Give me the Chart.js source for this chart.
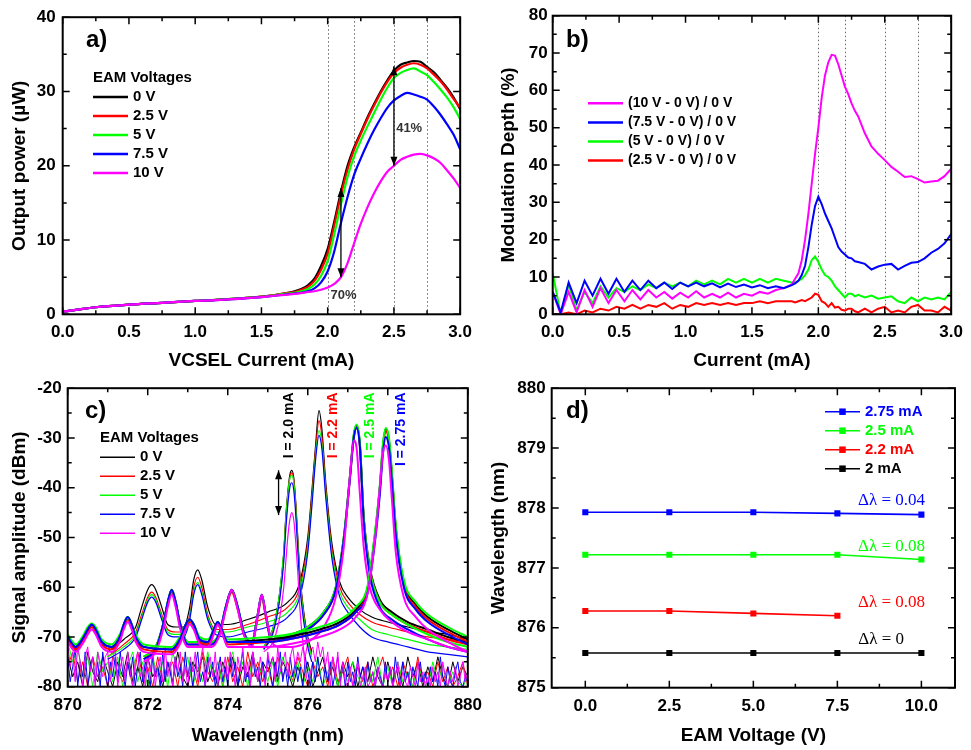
<!DOCTYPE html>
<html>
<head>
<meta charset="utf-8">
<script src="https://cdn.jsdelivr.net/npm/chart.js@4.4.0/dist/chart.umd.min.js"></script>
<style>
  body { margin: 0; background: #fff; width: 971px; height: 750px; position: relative; overflow: hidden; }
  canvas { position: absolute; }
</style>
</head>
<body>
<canvas id="chart-a" width="480" height="372" style="left:0;top:0"></canvas>
<canvas id="chart-b" width="491" height="372" style="left:480px;top:0"></canvas>
<canvas id="chart-c" width="490" height="378" style="left:0;top:372px"></canvas>
<canvas id="chart-d" width="491" height="378" style="left:480px;top:372px"></canvas>
<script>
// ---- a) output power vs VCSEL current ----
const currentA = [0, 0.1, 0.25, 0.5, 0.75, 1.0, 1.25, 1.5, 1.6, 1.7, 1.75, 1.8, 1.85, 1.9, 1.95, 2.0, 2.05, 2.1, 2.15, 2.2,
    2.25, 2.3, 2.35, 2.4, 2.45, 2.5, 2.55, 2.6, 2.65, 2.7, 2.75, 2.8, 2.85, 2.9, 2.95, 3.0];
const power0V = [0.35, 0.6, 0.95, 1.3, 1.55, 1.8, 2.05, 2.4, 2.6, 2.9, 3.1, 3.4, 3.9, 4.8, 6.5, 8.8, 12.5, 16.5, 20, 22.5,
    24.5, 26.5, 28.3, 30, 31.5, 32.8, 33.6, 33.9, 34.1, 34.0, 33.3, 32.6, 31.6, 30.5, 29.2, 27.6];
const power2_5V = [0.35, 0.6, 0.95, 1.3, 1.55, 1.8, 2.05, 2.4, 2.6, 2.9, 3.0, 3.3, 3.7, 4.5, 6.0, 8.2, 12, 16, 19.5, 22.2,
    24.3, 26.3, 28.1, 29.8, 31.3, 32.5, 33.2, 33.6, 33.8, 33.6, 33.1, 32.3, 31.4, 30.3, 29.0, 27.8];
const power5V = [0.35, 0.6, 0.95, 1.3, 1.55, 1.8, 2.05, 2.35, 2.55, 2.8, 2.9, 3.1, 3.4, 4.0, 5.2, 7.2, 10.8, 14.8, 18.5, 21.3,
    23.4, 25.3, 27.1, 28.9, 30.5, 31.8, 32.5, 32.9, 33.1, 32.7, 32.2, 31.3, 30.3, 29.2, 27.9, 26.3];
const power7_5V = [0.35, 0.6, 0.95, 1.3, 1.55, 1.8, 2.0, 2.3, 2.5, 2.7, 2.8, 2.9, 3.1, 3.5, 4.3, 5.8, 8.5, 12.3, 15.8, 18.8,
    21.0, 23.0, 24.8, 26.4, 27.8, 28.8, 29.4, 29.8, 29.6, 29.3, 28.9, 28.0, 26.9, 25.6, 24.2, 22.2];
const power10V = [0.35, 0.6, 0.95, 1.3, 1.55, 1.8, 2.0, 2.3, 2.5, 2.65, 2.75, 2.85, 3.0, 3.1, 3.3, 3.6, 4.1, 5.0, 6.9, 9.6,
    12.2, 14.4, 16.3, 17.9, 19.2, 20.0, 20.8, 21.2, 21.5, 21.6, 21.4, 21.0, 20.4, 19.4, 18.3, 17.0];
const voltLabels = ['0 V', '2.5 V', '5 V', '7.5 V', '10 V'];
const markCurrents = [2.0, 2.2, 2.5, 2.75];

// ---- b) modulation depth ----
const currentB = [0, 0.06, 0.12, 0.18, 0.24, 0.3, 0.36, 0.42, 0.48, 0.54, 0.6, 0.66, 0.72, 0.78, 0.84, 0.9, 0.96, 1.02,
    1.08, 1.14, 1.2, 1.26, 1.32, 1.38, 1.44, 1.5, 1.56, 1.62, 1.68, 1.74,
    1.8, 1.825, 1.85, 1.875, 1.9, 1.925, 1.95, 1.975, 2.0, 2.025, 2.05, 2.075, 2.1, 2.125, 2.15, 2.175, 2.2, 2.225,
    2.25, 2.275, 2.3, 2.35, 2.4, 2.45, 2.5, 2.55, 2.6, 2.65, 2.7, 2.75, 2.8, 2.85, 2.9, 2.95, 3.0];
const depth10 = [6, 0, 6, 0.5, 6.5, 2, 7, 3, 6.5, 3.5, 6.5, 4, 6.5, 4.5, 6, 4.2, 5.8, 4.5, 6.2, 4.5, 5.5, 4.5, 5.8, 4.5,
    5.5, 5, 6, 5.5, 6.5, 7,
    8, 9.5, 11, 14.5, 20, 27, 35, 43, 50, 58, 64, 67.5, 69.5, 69.3, 67, 64, 61, 59, 56.5, 54.5, 53,
    48.5, 45, 43, 41.3, 39.5, 38.2, 36.8, 37, 36.2, 35.3, 35.6, 35.8, 37, 39];
const depth7_5 = [6, 0.5, 8.5, 3, 9, 5, 9.5, 5.5, 9.5, 6, 9, 6.5, 9, 7, 8.5, 6.8, 8.5, 7.5, 8.5, 7.5, 8.3, 7.2, 8.2, 7.3,
    8, 7.2, 7.8, 7, 7.5, 7,
    7.8, 8.3, 9, 10.5, 13, 18, 24, 29, 31.5, 29.5, 27, 25, 23, 20.5, 18, 16.8, 16, 15.2, 15, 14.2, 14,
    13.5, 12, 12.8, 13.3, 13.5, 12, 13, 13.8, 14, 15, 16.5, 17.5, 19, 21.5];
const depth5 = [11, 0, 8, 1, 6, 3, 7.5, 4.5, 7, 6, 7.5, 6.5, 8, 7, 8.5, 7.5, 8.5, 7.5, 9, 8, 9, 8, 9.5, 8.5,
    9.5, 8.5, 9.5, 8.5, 9.5, 9,
    8.5, 8.5, 9, 9.5, 10.5, 12, 14.5, 15.5, 14, 12, 10.5, 10, 9, 7.5, 6.5, 5.5, 4.5, 5.5, 5.5, 4.8, 5.2,
    4.5, 5, 4.2, 4.5, 4.8, 3.5, 3, 4.5, 3.5, 4.5, 4, 4.5, 4, 6];
const depth2_5 = [0, 0, 0.5, 0, 1, 0.5, 1.5, 1, 2, 1.5, 2.5, 1.5, 2.5, 2, 3, 1.5, 2.5, 2, 3, 2.5, 3, 2.5, 3, 2.5,
    3, 3, 3.5, 3, 3.5, 3.5,
    3.5, 3.2, 3.5, 3.8, 3.5, 4, 4.5, 5.5, 5.2, 3.5, 3, 2, 3, 1.8, 2, 1.2, 1, 1.5, 1.5, 0.8, 0.5,
    1.5, 0.5, 1.5, 2, 0.5, 1, 0.5, 2, 2.5, 1, 1, 0.5, 2, 1];
const depthLabels = ['(10 V - 0 V) / 0 V', '(7.5 V - 0 V) / 0 V', '(5 V - 0 V) / 0 V', '(2.5 V - 0 V) / 0 V'];

// ---- c) spectra ----
// coarse noise floor (0, 2.5, 5 V)
const wlNoise = [870, 870.125, 870.25, 870.375, 870.5, 870.625, 870.75, 870.875,
    871, 871.125, 871.25, 871.375, 871.5, 871.625, 871.75, 871.875,
    872, 872.125, 872.25, 872.375, 872.5, 872.625, 872.75, 872.875,
    873, 873.125, 873.25, 873.375, 873.5, 873.625, 873.75, 873.875,
    874, 874.125, 874.25, 874.375, 874.5, 874.625, 874.75, 874.875,
    875, 875.125, 875.25, 875.375, 875.5, 875.625, 875.75, 875.875,
    876, 876.125, 876.25, 876.375, 876.5, 876.625, 876.75, 876.875,
    877, 877.125, 877.25, 877.375, 877.5, 877.625, 877.75, 877.875,
    878, 878.125, 878.25, 878.375, 878.5, 878.625, 878.75, 878.875,
    879, 879.125, 879.25, 879.375, 879.5, 879.625, 879.75, 879.875, 880];
const noise0V = [-74, -78, -75, -80, -73, -77, -79, -74, -77, -80, -75, -78, -73, -79, -76, -80,
    -74, -78, -76, -80, -75, -79, -73, -78, -80, -75, -77, -74, -79, -76, -80, -75,
    -78, -74, -80, -76, -78, -73, -79, -75, -77, -74, -79, -75, -77, -80, -76, -79,
    -75, -80, -77, -74, -79, -76, -80, -75, -78, -75, -80, -76, -79, -74, -78, -80,
    -75, -79, -76, -80, -74, -78, -75, -80, -76, -79, -74, -78, -80, -75, -79, -76, -78];
const noise2_5V = [-76, -73, -79, -75, -80, -74, -78, -76, -80, -74, -77, -79, -75, -80, -73, -78,
    -76, -80, -74, -79, -77, -75, -80, -74, -78, -76, -80, -73, -77, -79, -75, -80,
    -74, -79, -76, -80, -73, -78, -75, -79, -76, -80, -74, -78, -75, -79, -74, -77,
    -80, -75, -78, -76, -80, -74, -79, -77, -74, -80, -76, -79, -75, -80, -77, -74,
    -79, -76, -80, -75, -78, -80, -74, -79, -77, -80, -75, -79, -76, -80, -78, -75, -80];
const noise5V = [-71, -75, -72, -78, -74, -80, -73, -77, -75, -79, -74, -80, -76, -73, -79, -75,
    -80, -74, -78, -75, -80, -73, -77, -79, -74, -80, -76, -79, -73, -78, -75, -80,
    -76, -73, -79, -75, -80, -74, -78, -76, -79, -75, -80, -74, -77, -79, -75, -80,
    -76, -79, -74, -80, -77, -75, -80, -76, -79, -75, -78, -80, -76, -79, -74, -80,
    -76, -80, -75, -79, -77, -80, -76, -78, -80, -75, -79, -76, -80, -77, -79, -80, -78];
// fine noise floor (7.5, 10 V)
const wlNoiseFine = [870, 870.0625, 870.125, 870.1875, 870.25, 870.3125, 870.375, 870.4375,
    870.5, 870.5625, 870.625, 870.6875, 870.75, 870.8125, 870.875, 870.9375,
    871, 871.0625, 871.125, 871.1875, 871.25, 871.3125, 871.375, 871.4375,
    871.5, 871.5625, 871.625, 871.6875, 871.75, 871.8125, 871.875, 871.9375,
    872, 872.0625, 872.125, 872.1875, 872.25, 872.3125, 872.375, 872.4375,
    872.5, 872.5625, 872.625, 872.6875, 872.75, 872.8125, 872.875, 872.9375,
    873, 873.0625, 873.125, 873.1875, 873.25, 873.3125, 873.375, 873.4375,
    873.5, 873.5625, 873.625, 873.6875, 873.75, 873.8125, 873.875, 873.9375,
    874, 874.0625, 874.125, 874.1875, 874.25, 874.3125, 874.375, 874.4375,
    874.5, 874.5625, 874.625, 874.6875, 874.75, 874.8125, 874.875, 874.9375,
    875, 875.0625, 875.125, 875.1875, 875.25, 875.3125, 875.375, 875.4375,
    875.5, 875.5625, 875.625, 875.6875, 875.75, 875.8125, 875.875, 875.9375,
    876, 876.0625, 876.125, 876.1875, 876.25, 876.3125, 876.375, 876.4375,
    876.5, 876.5625, 876.625, 876.6875, 876.75, 876.8125, 876.875, 876.9375,
    877, 877.0625, 877.125, 877.1875, 877.25, 877.3125, 877.375, 877.4375,
    877.5, 877.5625, 877.625, 877.6875, 877.75, 877.8125, 877.875, 877.9375,
    878, 878.0625, 878.125, 878.1875, 878.25, 878.3125, 878.375, 878.4375,
    878.5, 878.5625, 878.625, 878.6875, 878.75, 878.8125, 878.875, 878.9375,
    879, 879.0625, 879.125, 879.1875, 879.25, 879.3125, 879.375, 879.4375,
    879.5, 879.5625, 879.625, 879.6875, 879.75, 879.8125, 879.875, 879.9375, 880];
const noise7_5V = [-74, -79, -76, -72, -80, -75, -78, -73, -80, -76, -74, -79, -75, -80, -73, -77,
    -80, -75, -78, -74, -79, -73, -77, -80, -75, -78, -74, -80, -76, -73, -79, -75,
    -77, -80, -74, -78, -76, -80, -73, -79, -75, -77, -80, -74, -78, -76, -80, -73,
    -78, -75, -80, -76, -73, -79, -77, -80, -74, -78, -75, -80, -77, -74, -79, -76,
    -80, -74, -78, -75, -80, -76, -73, -79, -77, -80, -74, -78, -76, -80, -75, -79,
    -74, -77, -80, -75, -78, -73, -79, -76, -80, -74, -78, -75, -79, -76, -80, -74,
    -77, -80, -75, -79, -74, -78, -80, -76, -79, -75, -80, -77, -74, -79, -76, -80,
    -75, -79, -77, -80, -74, -78, -76, -80, -75, -79, -77, -80, -76, -78, -80, -75,
    -79, -76, -80, -74, -78, -80, -75, -79, -77, -80, -76, -78, -80, -75, -79, -77,
    -80, -76, -79, -77, -80, -74, -78, -80, -76, -79, -80, -77, -75, -79, -80, -78, -79];
const noise10V = [-71, -76, -73, -79, -72, -75, -80, -74, -72, -77, -74, -80, -73, -76, -78, -74,
    -73, -79, -75, -72, -80, -76, -74, -79, -73, -77, -80, -75, -73, -78, -76, -80,
    -74, -77, -73, -80, -76, -74, -79, -72, -78, -75, -80, -74, -77, -73, -79, -76,
    -80, -74, -77, -73, -79, -75, -72, -80, -76, -74, -78, -73, -80, -75, -77, -74,
    -79, -73, -76, -80, -74, -77, -72, -78, -75, -80, -73, -76, -79, -74, -77, -80,
    -73, -76, -74, -79, -72, -77, -75, -73, -78, -74, -72, -76, -73, -75, -72, -74,
    -71, -73, -72, -75, -71, -74, -72, -76, -73, -80, -74, -78, -73, -80, -75, -79,
    -80, -76, -80, -77, -75, -80, -78, -76, -80, -79, -77, -80, -76, -79, -80, -77,
    -79, -76, -80, -78, -75, -80, -77, -79, -80, -76, -78, -80, -75, -79, -77, -80,
    -78, -80, -76, -79, -77, -80, -75, -78, -80, -77, -79, -76, -80, -78, -75, -79, -77];

const wl20 = [874.9, 875.1, 875.2, 875.3, 875.4, 875.45, 875.5, 875.55, 875.6, 875.65, 875.7, 875.75, 875.8, 875.9, 876.0, 876.1];
const spec20 = {
    '0 V':   [-72, -69, -66, -61, -53, -46, -41, -37.5, -36.5, -38, -43, -50, -57, -65, -70, -73],
    '2.5 V': [-72.5, -69.5, -66.5, -61.5, -53.5, -46.5, -41.5, -38, -37, -38.5, -43.5, -50.5, -57.5, -65.5, -70.5, -73.5],
    '5 V':   [-72, -69, -66, -61, -53, -46.5, -41.5, -38.3, -37.5, -39, -44, -51, -58, -66, -71, -74],
    '7.5 V': [-72.5, -70, -67, -62.5, -55, -48.5, -43.5, -40, -39, -40.5, -45.5, -52.5, -59.5, -67, -72, -75],
    '10 V':  [-73, -71.5, -69.5, -66, -60, -55, -50, -46.5, -45, -46.5, -51, -57, -64, -73, -79, -76]
};
const wl22 = [871.0, 871.4, 871.7, 871.85, 872.0, 872.1, 872.2, 872.35, 872.5, 872.7, 872.9, 873.05, 873.15, 873.25,
    873.35, 873.5, 873.7, 874.0, 874.5, 875.0, 875.5, 875.8, 876.0, 876.1, 876.2, 876.28, 876.35, 876.45, 876.6,
    876.8, 877.0, 877.3, 877.6, 878.0, 878.5, 879.0, 879.5, 880.0];
const spec22 = {
    '0 V':   [-73, -70.5, -68, -64, -60.5, -59.5, -60.5, -64, -67.5, -68, -68, -64, -58.5, -56.5, -58.5, -64, -67.5, -67.5,
              -66.5, -65, -63, -59, -50, -41, -31, -24.5, -28, -39, -51, -59, -62, -64.5, -66, -67, -68, -69, -69.5, -70.5],
    '2.5 V': [-74, -71.5, -69, -65.5, -62, -61, -62, -65.5, -68.5, -69, -69, -65.5, -60, -58, -60, -65.5, -68.5, -68.5,
              -67.5, -66, -64, -60, -51, -42, -32, -26.5, -29.5, -40, -52, -60, -63, -65.5, -67, -68, -69, -70, -70.5, -71],
    '5 V':   [-74, -72, -69.5, -66, -62.5, -61.5, -62.5, -66, -69, -69.5, -69.5, -66, -61, -59, -61, -66, -69, -69,
              -68, -67, -65, -61, -52, -43, -33, -28.5, -31, -41, -53, -61, -64, -66.5, -68.5, -69.5, -70.5, -71.5, -72, -72.5],
    '7.5 V': [-74.5, -72.5, -70, -66.5, -63, -62, -63, -66.5, -69.5, -70, -70, -66.5, -61.5, -59.5, -61.5, -66.5, -69.5, -70,
              -69, -68, -66, -62, -53, -44, -34, -29.5, -32, -42, -54, -62, -65, -68, -70, -71, -72, -73, -73.5, -74]
};
const wl25 = [871.9, 872.2, 872.4, 872.5, 872.6, 872.7, 872.8, 873.0, 873.6, 873.8, 873.95, 874.1, 874.25, 874.4, 874.6,
    874.75, 874.85, 874.95, 875.1, 875.3, 875.6, 876.0, 876.4, 876.7, 876.9, 877.05, 877.15, 877.22, 877.3, 877.4,
    877.55, 877.8, 878.1, 878.5, 879.0, 879.5, 880.0];
const spec25 = {
    '0 V':   [-74, -72, -67, -63, -60.5, -63, -67, -71, -71, -69, -64, -60.5, -64, -69, -71, -65.5, -61.5, -65.5, -70.5,
              -70, -69.5, -68, -65, -60, -50, -38, -29.5, -27.5, -31, -46, -56, -62.5, -65, -67, -68.5, -70, -71],
    '2.5 V': [-74.5, -72, -67.5, -63.5, -61, -63.5, -67.5, -71.5, -71.5, -69.5, -64.5, -61, -64.5, -69.5, -71.5, -66, -62, -66, -71,
              -70.5, -70, -68.5, -65.5, -60.5, -50.5, -38.5, -30, -28, -31.5, -46.5, -56.5, -63, -65.5, -67.5, -69, -70.5, -71.5],
    '5 V':   [-74, -72, -67, -63, -60.5, -63, -67, -71, -71, -69, -64, -60.5, -64, -69, -71, -65.5, -61.5, -65.5, -70.5,
              -70, -69.5, -68, -65, -60, -50, -38, -29.3, -27.3, -30.8, -46, -56.5, -63, -65.5, -67.5, -69.5, -71, -72],
    '7.5 V': [-74.5, -72.5, -67, -63, -60.5, -63, -67, -71.5, -71.5, -69, -64, -60.5, -64, -69, -71.5, -65.5, -61.5, -65.5, -71,
              -70.5, -70, -68.5, -65.5, -60.5, -50.5, -38.5, -30, -28, -31.5, -47, -57.5, -64, -66.5, -68.5, -70.5, -72, -73],
    '10 V':  [-75, -73, -68, -64, -61.5, -64, -68, -72, -72, -69.5, -64.5, -60.5, -64.5, -69.5, -72, -65.5, -61.5, -65.5, -71,
              -72, -72, -71, -68, -62, -52, -38, -30.5, -32, -41, -52, -60, -64.5, -67, -69, -70.5, -72, -73]
};
const wl275 = [870.0, 870.2, 870.4, 870.5, 870.6, 870.7, 870.85, 871.1, 871.3, 871.4, 871.5, 871.6, 871.7, 871.9, 872.6,
    872.8, 872.95, 873.05, 873.15, 873.3, 873.5, 873.65, 873.75, 873.85, 874.0, 875.0, 875.5, 876.3, 876.8, 877.2,
    877.5, 877.7, 877.8, 877.88, 877.95, 878.03, 878.1, 878.2, 878.4, 878.7, 879.0, 879.5, 880.0];
const spec275 = {
    '0 V':   [-70, -72, -70, -68.5, -67.5, -68.5, -71, -72, -70, -67.5, -66, -67.5, -70, -72, -72.5, -70.5, -67.5, -66.5,
              -67.5, -70.5, -71, -68.5, -67, -68.5, -71, -70.5, -70, -68.5, -67, -64.5, -60, -48, -40, -31.5, -28.2, -30.5,
              -37, -48, -59, -63.5, -66, -68.5, -70.5],
    '2.5 V': [-70.5, -72.5, -70.5, -69, -68, -69, -71.5, -72.5, -70.5, -68, -66.5, -68, -70.5, -72.5, -73, -71, -68, -67,
              -68, -71, -71.5, -69, -67.5, -69, -71.5, -71, -70.5, -69, -67.5, -65, -60.5, -48.5, -40.5, -32, -28.5, -31,
              -37.5, -48.5, -59.5, -64, -66.5, -69, -71],
    '5 V':   [-69.5, -71.5, -69.5, -68, -67.3, -68, -70.5, -71.5, -69.5, -67.5, -66, -67.5, -69.5, -71.5, -72, -70, -67.5, -66.5,
              -67.5, -70, -70.5, -68.5, -67, -68.5, -70.5, -70, -69.5, -68, -66.5, -64, -59.5, -47.5, -39.5, -31, -28, -30,
              -36.5, -47.5, -58.5, -63, -65.5, -68, -70],
    '7.5 V': [-70, -72, -70, -68.5, -67.5, -68.5, -71, -72, -70, -67.5, -66, -67.5, -70, -72, -72.5, -70.5, -67.5, -66.5,
              -67.5, -70.5, -71, -68.5, -67, -68.5, -71, -71, -70.5, -69, -67.5, -65, -61, -49.5, -41.5, -33, -29.8, -32,
              -38.5, -49.5, -60, -64.5, -67, -69.5, -71.5],
    '10 V':  [-71, -73, -71, -69.5, -68.5, -69.5, -72, -73, -71, -68.5, -67, -68.5, -71, -73, -73.5, -71.5, -68.5, -67.5,
              -68.5, -71.5, -72, -69.5, -67.5, -69, -72, -72, -71.5, -70, -68.5, -66, -61, -49, -40, -33, -31.5, -34.5,
              -42, -53, -62, -66, -68.5, -71, -73]
};
const peakLabels = [
    {text: 'I = 2.0 mA', x: 875.54, color: '#000000'},
    {text: 'I = 2.2 mA', x: 876.63, color: '#ff0000'},
    {text: 'I = 2.5 mA', x: 877.55, color: '#00ff00'},
    {text: 'I = 2.75 mA', x: 878.34, color: '#0000ff'}
];

// ---- d) peak wavelength vs EAM voltage ----
const eamVoltage = [0, 2.5, 5, 7.5, 10];
const wavelength2_75 = [877.93, 877.93, 877.93, 877.91, 877.89];
const wavelength2_5 = [877.22, 877.22, 877.22, 877.22, 877.14];
const wavelength2_2 = [876.28, 876.28, 876.24, 876.2];
const wavelength2_0 = [875.58, 875.58, 875.58, 875.58, 875.58];
const shiftLabels = ['\u0394\u03bb = 0.04', '\u0394\u03bb = 0.08', '\u0394\u03bb = 0.08', '\u0394\u03bb = 0'];

const colors = ['#000000', '#ff0000', '#00ff00', '#0000ff', '#ff00ff'];
const tickFont = {family: 'Liberation Sans', size: 17, weight: 'bold'};
const titleFont = {family: 'Liberation Sans', size: 19, weight: 'bold'};

function pts(xs, ys) {
    return xs.map((x, i) => ({x: x, y: ys[i]}));
}

function line(label, xs, ys, color, width, smooth) {
    return {
        label: label, data: pts(xs, ys), borderColor: color, backgroundColor: color,
        borderWidth: width, pointRadius: 0, fill: false, tension: 0,
        cubicInterpolationMode: smooth ? 'monotone' : 'default'
    };
}

function stack(datasets) {
    // first in the list ends up at the bottom
    datasets.forEach((d, i) => { d.order = datasets.length - i; });
    return datasets;
}

function axes(o) {
    return {
        x: {
            type: 'linear', min: o.xmin, max: o.xmax,
            afterFit: s => { s.height = o.xh; },
            grid: {display: false, drawTicks: false}, border: {display: false},
            ticks: {stepSize: o.xstep, includeBounds: false, padding: o.xpad, color: '#000', font: tickFont,
                maxRotation: 0, autoSkip: false, callback: o.xfmt},
            title: {display: true, text: o.xtitle, color: '#000', font: titleFont, padding: {top: 0, bottom: o.xtpad}}
        },
        y: {
            type: 'linear', min: o.ymin, max: o.ymax,
            afterFit: s => { s.width = o.yw; },
            grid: {display: false, drawTicks: false}, border: {display: false},
            ticks: {stepSize: o.ystep, includeBounds: false, padding: o.ypad, color: '#000', font: tickFont, autoSkip: false},
            title: {display: true, text: o.ytitle, color: '#000', font: titleFont, padding: {top: o.ytpad, bottom: 0}}
        }
    };
}

function baseOptions(pad, scales) {
    return {
        responsive: false, animation: false, events: [],
        layout: {autoPadding: false, padding: pad},
        plugins: {legend: {display: false}, tooltip: {enabled: false}},
        scales: scales
    };
}

// box with inward ticks on all four sides
const framePlugin = {
    id: 'frame',
    afterDatasetsDraw(chart) {
        const {ctx, chartArea: a} = chart;
        const sx = chart.scales.x, sy = chart.scales.y;
        const marks = scale => {
            const v = scale.ticks.map(t => t.value);
            const out = v.map(t => [t, 7]);
            for (let i = 0; i < v.length - 1; i++) out.push([(v[i] + v[i + 1]) / 2, 4]);
            return out;
        };
        ctx.save();
        ctx.strokeStyle = '#000';
        ctx.lineWidth = 1.5;
        ctx.beginPath();
        marks(sx).forEach(([v, len]) => {
            const px = sx.getPixelForValue(v);
            ctx.moveTo(px, a.bottom); ctx.lineTo(px, a.bottom - len);
            ctx.moveTo(px, a.top); ctx.lineTo(px, a.top + len);
        });
        marks(sy).forEach(([v, len]) => {
            const py = sy.getPixelForValue(v);
            ctx.moveTo(a.left, py); ctx.lineTo(a.left + len, py);
            ctx.moveTo(a.right, py); ctx.lineTo(a.right - len, py);
        });
        ctx.stroke();
        ctx.lineWidth = 2;
        ctx.strokeRect(a.left, a.top, a.right - a.left, a.bottom - a.top);
        ctx.restore();
    }
};
Chart.register(framePlugin);

function panelLabel(ctx, text, x, y) {
    ctx.save();
    ctx.font = 'bold 24px "Liberation Sans"';
    ctx.fillStyle = '#000';
    ctx.textBaseline = 'middle';
    ctx.fillText(text, x, y);
    ctx.restore();
}

function drawLegend(ctx, o) {
    ctx.save();
    ctx.textBaseline = 'middle';
    ctx.textAlign = 'left';
    ctx.font = 'bold ' + o.size + 'px "Liberation Sans"';
    let y = o.y;
    if (o.title) {
        ctx.fillStyle = '#000';
        ctx.fillText(o.title, o.x, y);
        y += o.dy;
    }
    o.items.forEach(it => {
        ctx.strokeStyle = it.color;
        ctx.lineWidth = o.lw;
        ctx.beginPath();
        ctx.moveTo(o.x, y);
        ctx.lineTo(o.x + o.len, y);
        ctx.stroke();
        if (o.marker) {
            ctx.fillStyle = it.color;
            ctx.fillRect(o.x + o.len / 2 - o.marker / 2, y - o.marker / 2, o.marker, o.marker);
        }
        ctx.fillStyle = o.colouredText ? it.color : '#000';
        ctx.fillText(it.text, o.x + o.len + 5, y);
        y += o.dy;
    });
    ctx.restore();
}

function dotted(chart, xs) {
    const {ctx, chartArea: a} = chart;
    const sx = chart.scales.x;
    ctx.save();
    ctx.strokeStyle = '#666';
    ctx.lineWidth = 1;
    ctx.setLineDash([1.5, 2.5]);
    xs.forEach(v => {
        const p = Math.round(sx.getPixelForValue(v)) + 0.5;
        ctx.beginPath();
        ctx.moveTo(p, a.top);
        ctx.lineTo(p, a.bottom);
        ctx.stroke();
    });
    ctx.restore();
}

function vArrow(chart, x, from, to) {
    const ctx = chart.ctx;
    const px = chart.scales.x.getPixelForValue(x);
    const y1 = chart.scales.y.getPixelForValue(from), y2 = chart.scales.y.getPixelForValue(to);
    ctx.save();
    ctx.strokeStyle = '#000';
    ctx.fillStyle = '#000';
    ctx.lineWidth = 1.3;
    ctx.beginPath();
    ctx.moveTo(px, y1);
    ctx.lineTo(px, y2);
    ctx.stroke();
    [[y1, y1 < y2 ? 1 : -1], [y2, y2 < y1 ? 1 : -1]].forEach(([y, d]) => {
        ctx.beginPath();
        ctx.moveTo(px, y);
        ctx.lineTo(px - 3.5, y + d * 9);
        ctx.lineTo(px + 3.5, y + d * 9);
        ctx.closePath();
        ctx.fill();
    });
    ctx.restore();
}

function dataText(chart, text, x, y, font, color, align) {
    const ctx = chart.ctx;
    ctx.save();
    ctx.font = font;
    ctx.fillStyle = color;
    ctx.textAlign = align || 'center';
    ctx.textBaseline = 'middle';
    ctx.fillText(text, chart.scales.x.getPixelForValue(x), chart.scales.y.getPixelForValue(y));
    ctx.restore();
}

// ---------- a) ----------
const powerSeries = [power0V, power2_5V, power5V, power7_5V, power10V];
new Chart(document.getElementById('chart-a').getContext('2d'), {
    type: 'line',
    data: {datasets: stack(powerSeries.map((ys, i) => line(voltLabels[i], currentA, ys, colors[i], 2.2, true)))},
    options: baseOptions({left: 0, top: 15.7, right: 14.3, bottom: 0}, axes({
        xmin: 0, xmax: 3, xstep: 0.5, xh: 57.7, xpad: 8, xfmt: v => v.toFixed(1),
        xtitle: 'VCSEL Current (mA)', xtpad: 0,
        ymin: 0, ymax: 40, ystep: 10, yw: 62.7, ypad: 7,
        ytitle: 'Output power (\u00b5W)', ytpad: 8
    })),
    plugins: [{
        id: 'annotA',
        beforeDatasetsDraw(chart) { dotted(chart, markCurrents); },
        afterDatasetsDraw(chart) {
            vArrow(chart, 2.1, 5, 17);
            vArrow(chart, 2.5, 20, 33.4);
            dataText(chart, '70%', 2.12, 2.5, 'bold 13px "Liberation Sans"', '#333');
            dataText(chart, '41%', 2.615, 25, 'bold 13px "Liberation Sans"', '#333');
            panelLabel(chart.ctx, 'a)', 86, 40);
            drawLegend(chart.ctx, {title: 'EAM Voltages', x: 93, y: 78, dy: 19, len: 35, lw: 2.5, size: 15,
                items: voltLabels.map((t, i) => ({text: t, color: colors[i]}))});
        }
    }]
});

// ---------- b) ----------
const depthSeries = [
    {label: depthLabels[3], ys: depth2_5, color: colors[1]},
    {label: depthLabels[2], ys: depth5, color: colors[2]},
    {label: depthLabels[0], ys: depth10, color: colors[4]},
    {label: depthLabels[1], ys: depth7_5, color: colors[3]}
];
new Chart(document.getElementById('chart-b').getContext('2d'), {
    type: 'line',
    data: {datasets: stack(depthSeries.map(s => line(s.label, currentB, s.ys, s.color, 2, false)))},
    options: baseOptions({left: 0, top: 15.7, right: 16, bottom: 0}, axes({
        xmin: 0, xmax: 3, xstep: 0.5, xh: 57.7, xpad: 8, xfmt: v => v.toFixed(1),
        xtitle: 'Current (mA)', xtpad: 0,
        ymin: 0, ymax: 80, ystep: 10, yw: 72.7, ypad: 5,
        ytitle: 'Modulation Depth (%)', ytpad: 17
    })),
    plugins: [{
        id: 'annotB',
        beforeDatasetsDraw(chart) { dotted(chart, markCurrents); },
        afterDatasetsDraw(chart) {
            panelLabel(chart.ctx, 'b)', 86, 40);
            drawLegend(chart.ctx, {x: 108, y: 103.3, dy: 19.1, len: 35, lw: 2.5, size: 14,
                items: [
                    {text: depthLabels[0], color: colors[4]},
                    {text: depthLabels[1], color: colors[3]},
                    {text: depthLabels[2], color: colors[2]},
                    {text: depthLabels[3], color: colors[1]}
                ]});
        }
    }]
});

// ---------- c) ----------
const specSets = [];
[noise0V, noise2_5V, noise5V].forEach((ys, i) => specSets.push(line('noise ' + voltLabels[i], wlNoise, ys, colors[i], 1, false)));
[noise7_5V, noise10V].forEach((ys, i) => specSets.push(line('noise ' + voltLabels[i + 3], wlNoiseFine, ys, colors[i + 3], 1, false)));
voltLabels.slice(0, 4).forEach((v, i) => specSets.push(line('2.2 mA ' + v, wl22, spec22[v], colors[i], 1.2, true)));
voltLabels.forEach((v, i) => specSets.push(line('2.0 mA ' + v, wl20, spec20[v], colors[i], 1.2, true)));
voltLabels.forEach((v, i) => specSets.push(line('2.5 mA ' + v, wl25, spec25[v], colors[i], 2, true)));
voltLabels.forEach((v, i) => specSets.push(line('2.75 mA ' + v, wl275, spec275[v], colors[i], 2, true)));
new Chart(document.getElementById('chart-c').getContext('2d'), {
    type: 'line',
    data: {datasets: stack(specSets)},
    options: baseOptions({left: 0, top: 15.7, right: 19, bottom: 0}, axes({
        xmin: 870, xmax: 880, xstep: 2, xh: 63.3, xpad: 8, xfmt: v => String(v),
        xtitle: 'Wavelength (nm)', xtpad: 3,
        ymin: -80, ymax: -20, ystep: 10, yw: 67.7, ypad: 6,
        ytitle: 'Signal amplitude (dBm)', ytpad: 8
    })),
    plugins: [{
        id: 'annotC',
        afterDatasetsDraw(chart) {
            const ctx = chart.ctx;
            vArrow(chart, 875.27, -36.5, -45.5);
            peakLabels.forEach(p => {
                ctx.save();
                ctx.translate(chart.scales.x.getPixelForValue(p.x), chart.scales.y.getPixelForValue(-20.86));
                ctx.rotate(-Math.PI / 2);
                ctx.font = 'bold 14px "Liberation Sans"';
                ctx.fillStyle = p.color;
                ctx.textAlign = 'right';
                ctx.textBaseline = 'middle';
                ctx.fillText(p.text, 0, 0);
                ctx.restore();
            });
            panelLabel(ctx, 'c)', 85, 39);
            drawLegend(ctx, {title: 'EAM Voltages', x: 100, y: 66.3, dy: 19, len: 35, lw: 1.5, size: 15,
                items: voltLabels.map((t, i) => ({text: t, color: colors[i]}))});
        }
    }]
});

// ---------- d) ----------
const waveSeries = [
    {label: '2 mA', ys: wavelength2_0, color: colors[0]},
    {label: '2.2 mA', ys: wavelength2_2, color: colors[1]},
    {label: '2.5 mA', ys: wavelength2_5, color: colors[2]},
    {label: '2.75 mA', ys: wavelength2_75, color: colors[3]}
];
new Chart(document.getElementById('chart-d').getContext('2d'), {
    type: 'line',
    data: {
        datasets: stack(waveSeries.map(s => Object.assign(line(s.label, eamVoltage.slice(0, s.ys.length), s.ys, s.color, 1.6, false), {
            pointRadius: 4.3, pointStyle: 'rect', pointBackgroundColor: s.color, pointBorderColor: s.color, pointBorderWidth: 0
        })))
    },
    options: baseOptions({left: 0, top: 14.7, right: 16, bottom: 0}, axes({
        xmin: -1, xmax: 11, xstep: 2.5, xh: 62.3, xpad: 8, xfmt: v => v.toFixed(1),
        xtitle: 'EAM Voltage (V)', xtpad: 3,
        ymin: 875, ymax: 880, ystep: 1, yw: 71.7, ypad: 6,
        ytitle: 'Wavelength (nm)', ytpad: 7
    })),
    plugins: [{
        id: 'annotD',
        afterDatasetsDraw(chart) {
            const f = '17px "Liberation Serif"';
            dataText(chart, shiftLabels[0], 10.11, 878.13, f, colors[3], 'right');
            dataText(chart, shiftLabels[1], 10.11, 877.35, f, colors[2], 'right');
            dataText(chart, shiftLabels[2], 10.11, 876.42, f, colors[1], 'right');
            dataText(chart, shiftLabels[3], 8.12, 875.8, f, colors[0], 'left');
            panelLabel(chart.ctx, 'd)', 86, 39);
            drawLegend(chart.ctx, {x: 345, y: 39.7, dy: 19, len: 35, lw: 1.6, size: 15, marker: 6.5, colouredText: true,
                items: [
                    {text: '2.75 mA', color: colors[3]},
                    {text: '2.5 mA', color: colors[2]},
                    {text: '2.2 mA', color: colors[1]},
                    {text: '2 mA', color: colors[0]}
                ]});
        }
    }]
});
</script>
</body>
</html>
